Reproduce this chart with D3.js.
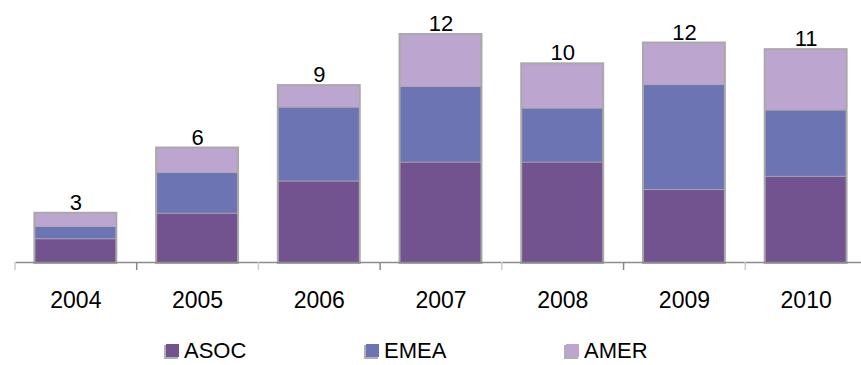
<!DOCTYPE html>
<html>
<head>
<meta charset="utf-8">
<script src="https://cdn.jsdelivr.net/npm/d3@7"></script>
<style>
  body { margin: 0; background: #fff; }
  svg { display: block; font-family: "Liberation Sans", Arial, sans-serif; }
</style>
</head>
<body>
<div id="chart"></div>
<script>
var years = ["2004", "2005", "2006", "2007", "2008", "2009", "2010"];
var seriesNames = ["ASOC", "EMEA", "AMER"];
var asoc = [1.2, 2.55, 4.25, 5.25, 5.25, 3.8, 4.5];
var emea = [0.65, 2.15, 3.9, 4.0, 2.85, 5.55, 3.5];
var amer = [0.7, 1.3, 1.15, 2.75, 2.35, 2.2, 3.2];
var colors = ["#72538f", "#6d74b3", "#bca5cf"];

var width = 861, height = 365;
var baseY = 262;

var rows = years.map(function(y, i) {
  return { year: y, ASOC: asoc[i], EMEA: emea[i], AMER: amer[i] };
});

var stacked = d3.stack().keys(seriesNames)(rows);

var svg = d3.select("#chart").append("svg")
    .attr("width", width)
    .attr("height", height);

var x = d3.scaleBand()
    .domain(years)
    .range([15, 867])
    .paddingInner(0.335)
    .paddingOuter(0.1675);

var y = d3.scaleLinear()
    .domain([0, 12])
    .range([baseY, 35]);

// shadow / outline behind each bar
svg.append("g").selectAll("rect")
    .data(rows)
    .enter().append("rect")
    .attr("x", function(d) { return x(d.year) - 2; })
    .attr("y", function(d) { return y(d.ASOC + d.EMEA + d.AMER) - 2; })
    .attr("width", x.bandwidth() + 3)
    .attr("height", function(d) { return baseY - y(d.ASOC + d.EMEA + d.AMER) + 4; })
    .style("fill", "#a9a9a9");

var layer = svg.append("g").selectAll("g")
    .data(stacked)
    .enter().append("g")
    .style("fill", function(d, i) { return colors[i]; });

layer.selectAll("rect")
    .data(function(d) { return d; })
    .enter().append("rect")
    .attr("x", function(d) { return x(d.data.year); })
    .attr("y", function(d) { return y(d[1]); })
    .attr("width", x.bandwidth() - 1)
    .attr("height", function(d) { return y(d[0]) - y(d[1]) - (d[0] > 0 ? 1 : 0); });

// axis
var xAxis = d3.axisBottom(x).tickSize(0).tickPadding(0);
var gx = svg.append("g")
    .attr("transform", "translate(0," + baseY + ")")
    .call(xAxis);
gx.select(".domain").attr("stroke", "#8c8c8c").attr("stroke-width", 1.5);
gx.selectAll(".tick text")
    .attr("y", 46)
    .attr("dy", 0)
    .style("font-size", "23px")
    .style("font-family", "Liberation Sans, Arial, sans-serif")
    .attr("fill", "#000");

var step = x.step();
svg.append("g").selectAll("line")
    .data(years)
    .enter().append("line")
    .attr("x1", function(d) { return x(d) - step * 0.1675; })
    .attr("x2", function(d) { return x(d) - step * 0.1675; })
    .attr("y1", baseY)
    .attr("y2", baseY + 8)
    .attr("stroke", function(d, i) { return i % 2 ? "#888" : "#ccc"; })
    .attr("stroke-width", 1.5);

// totals
svg.append("g").selectAll("text")
    .data(rows)
    .enter().append("text")
    .attr("x", function(d) { return x(d.year) + x.bandwidth() / 2; })
    .attr("y", function(d) { return y(d.ASOC + d.EMEA + d.AMER) - 4; })
    .attr("text-anchor", "middle")
    .style("font-size", "22px")
    .text(function(d) { return Math.round(d.ASOC + d.EMEA + d.AMER); });

// legend
var legend = svg.append("g").selectAll("g")
    .data(seriesNames)
    .enter().append("g")
    .attr("transform", function(d, i) { return "translate(" + (166 + i * 200) + ",344)"; });

legend.append("rect")
    .attr("x", -2).attr("y", 1)
    .attr("width", 14).attr("height", 14)
    .style("fill", "#b0b0b0");
legend.append("rect")
    .attr("width", 13).attr("height", 13)
    .style("fill", function(d, i) { return colors[i]; });
legend.append("text")
    .attr("x", 18)
    .attr("y", 14)
    .style("font-size", "22px")
    .text(function(d) { return d; });
</script>
</body>
</html>
